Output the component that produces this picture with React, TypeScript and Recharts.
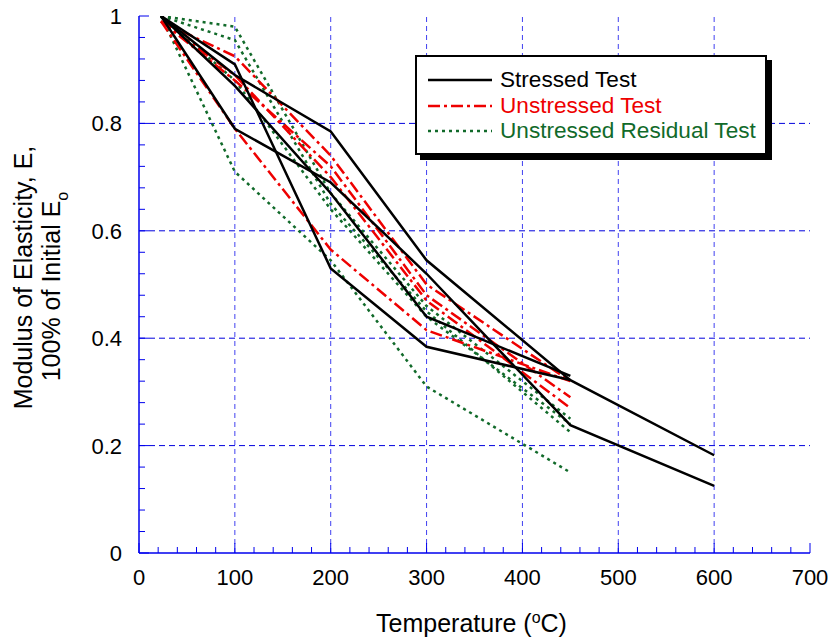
import React from 'react';
import { LineChart, Line, XAxis, YAxis, ReferenceLine } from 'recharts';

// temperatures of the test points (°C)
const tempsTo450 = [23, 100, 200, 300, 450];
const tempsTo600 = [23, 100, 200, 300, 450, 600];

// Stressed Test (black, solid)
const stressedA = [1.0, 0.89, 0.785, 0.545, 0.322, 0.182];
const stressedB = [1.0, 0.79, 0.69, 0.52, 0.238, 0.125];
const stressedC = [1.0, 0.91, 0.53, 0.384, 0.322];
const stressedD = [1.0, 0.87, 0.67, 0.44, 0.33];

// Unstressed Test (red, dash-dot)
const unstressedA = [0.99, 0.925, 0.74, 0.5, 0.32];
const unstressedB = [0.99, 0.88, 0.72, 0.48, 0.29];
const unstressedC = [0.99, 0.89, 0.7, 0.47, 0.27];
const unstressedD = [0.99, 0.79, 0.565, 0.415, 0.32];

// Unstressed Residual Test (green, dotted)
const residualA = [1.0, 0.98, 0.67, 0.46, 0.25];
const residualB = [1.0, 0.955, 0.65, 0.45, 0.225];
const residualC = [1.0, 0.71, 0.545, 0.31, 0.15];
const residualD = [1.0, 0.88, 0.64, 0.44, 0.24];

const xMajor = [0, 100, 200, 300, 400, 500, 600, 700];
const xMinor = [20, 40, 60, 80, 120, 140, 160, 180, 220, 240, 260, 280, 320, 340, 360, 380,
  420, 440, 460, 480, 520, 540, 560, 580, 620, 640, 660, 680];
const yMajor = [0, 0.2, 0.4, 0.6, 0.8, 1];
const yMinor = [0.04, 0.08, 0.12, 0.16, 0.24, 0.28, 0.32, 0.36, 0.44, 0.48, 0.52, 0.56,
  0.64, 0.68, 0.72, 0.76, 0.84, 0.88, 0.92, 0.96];
const gridX = [100, 200, 300, 400, 500, 600];
const gridY = [0.2, 0.4, 0.6, 0.8];

const toPoints = (temps: number[], values: number[]) =>
  values.map((e, i) => ({ t: temps[i], e }));

const BLACK = '#000000';
const RED = '#ee0000';
const GREEN = '#116a2a';
const AXIS_BLUE = '#0000ee';

const series = [
  { id: 'rA', temps: tempsTo450, values: residualA, color: GREEN, dash: '3 4' },
  { id: 'rB', temps: tempsTo450, values: residualB, color: GREEN, dash: '3 4' },
  { id: 'rC', temps: tempsTo450, values: residualC, color: GREEN, dash: '3 4' },
  { id: 'rD', temps: tempsTo450, values: residualD, color: GREEN, dash: '3 4' },
  { id: 'uA', temps: tempsTo450, values: unstressedA, color: RED, dash: '12 4 3 4' },
  { id: 'uB', temps: tempsTo450, values: unstressedB, color: RED, dash: '12 4 3 4' },
  { id: 'uC', temps: tempsTo450, values: unstressedC, color: RED, dash: '12 4 3 4' },
  { id: 'uD', temps: tempsTo450, values: unstressedD, color: RED, dash: '12 4 3 4' },
  { id: 'sA', temps: tempsTo600, values: stressedA, color: BLACK, dash: undefined },
  { id: 'sB', temps: tempsTo600, values: stressedB, color: BLACK, dash: undefined },
  { id: 'sC', temps: tempsTo450, values: stressedC, color: BLACK, dash: undefined },
  { id: 'sD', temps: tempsTo450, values: stressedD, color: BLACK, dash: undefined },
];

const isMajorY = (v: number) => Math.abs(v * 5 - Math.round(v * 5)) < 1e-6;

const BottomTick = ({ x, y, payload }: any) => {
  const major = xMajor.includes(payload.value);
  return (
    <g>
      <line x1={x} y1={y} x2={x} y2={y - (major ? 10 : 6)} stroke={AXIS_BLUE} strokeWidth={1} />
      {major && (
        <text x={x} y={y + 32} textAnchor="middle" fontSize={22} fill="#000">{payload.value}</text>
      )}
    </g>
  );
};

const TopTick = ({ x, y, payload }: any) => {
  const major = xMajor.includes(payload.value);
  return <line x1={x} y1={y} x2={x} y2={y + (major ? 10 : 6)} stroke={AXIS_BLUE} strokeWidth={1} />;
};

const LeftTick = ({ x, y, payload }: any) => {
  const major = isMajorY(payload.value);
  return (
    <g>
      <line x1={x} y1={y} x2={x + (major ? 10 : 6)} y2={y} stroke={AXIS_BLUE} strokeWidth={1} />
      {major && (
        <text x={x - 17} y={y + 8} textAnchor="end" fontSize={22} fill="#000">
          {String(Number(payload.value.toFixed(1)))}
        </text>
      )}
    </g>
  );
};

const RightTick = ({ x, y, payload }: any) => {
  const major = isMajorY(payload.value);
  return <line x1={x} y1={y} x2={x - (major ? 10 : 6)} y2={y} stroke={AXIS_BLUE} strokeWidth={1} />;
};

const YTitle = ({ viewBox }: any) => {
  const mid = viewBox.y + viewBox.height / 2;
  return (
    <g fontSize={25} fill="#000">
      <text transform={`translate(${viewBox.x + 32}, ${mid - 7}) rotate(-90)`} textAnchor="middle">
        Modulus of Elasticity, E,
      </text>
      <text transform={`translate(${viewBox.x + 60}, ${mid + 2}) rotate(-90)`} textAnchor="middle">
        100% of Initial E<tspan dy={8} fontSize={16}>o</tspan>
      </text>
    </g>
  );
};

const XTitle = ({ viewBox }: any) => (
  <text x={viewBox.x + viewBox.width / 2 - 3} y={viewBox.y + 79} textAnchor="middle" fontSize={25} fill="#000">
    Temperature (<tspan dy={-9} fontSize={16}>o</tspan><tspan dy={9}>C)</tspan>
  </text>
);

const legendRows = [
  { label: 'Stressed Test', color: BLACK, dash: undefined },
  { label: 'Unstressed Test', color: RED, dash: '12 4 3 4' },
  { label: 'Unstressed Residual Test', color: GREEN, dash: '3 4' },
];

const ChartLegend = () => (
  <div style={{
    position: 'absolute', left: 415, top: 55, width: 348, height: 96,
    border: '2px solid #000', background: '#fff', boxShadow: '5px 5px 0 #000',
  }}>
    {legendRows.map((row, i) => (
      <div key={row.label} style={{ position: 'absolute', left: 0, top: 10 + i * 25.5, height: 26, width: '100%' }}>
        <svg width={70} height={26} style={{ position: 'absolute', left: 9, top: 0 }}>
          <line x1={2} y1={13} x2={66} y2={13} stroke={row.color} strokeWidth={2.5} strokeDasharray={row.dash} />
        </svg>
        <span style={{ position: 'absolute', left: 83, top: 0, lineHeight: '26px', fontSize: 22.6, color: row.color, whiteSpace: 'nowrap' }}>
          {row.label}
        </span>
      </div>
    ))}
  </div>
);

export default function App() {
  return (
    <div style={{ position: 'relative', width: 832, height: 639, fontFamily: "'Liberation Sans', Arial, sans-serif", background: '#fff' }}>
      <style>{'body{margin:0}'}</style>
      <LineChart width={832} height={639} margin={{ top: 16, right: 22, bottom: 0, left: 0 }}>
        <XAxis
          dataKey="t" type="number" domain={[0, 700]} ticks={[...xMajor, ...xMinor]} interval={0}
          allowDataOverflow height={86} tickLine={false} tickSize={0} tickMargin={0}
          axisLine={{ stroke: AXIS_BLUE, strokeWidth: 1.5 }} tick={<BottomTick />} label={<XTitle />}
        />
        <XAxis
          xAxisId="top" orientation="top" type="number" domain={[0, 700]} ticks={[...xMajor, ...xMinor]} interval={0}
          allowDataOverflow height={0} tickLine={false} tickSize={0} tickMargin={0}
          axisLine={{ stroke: AXIS_BLUE, strokeWidth: 1.5 }} tick={<TopTick />}
        />
        <YAxis
          type="number" domain={[0, 1]} ticks={[...yMajor, ...yMinor]} interval={0}
          allowDataOverflow width={139} tickLine={false} tickSize={0} tickMargin={0}
          axisLine={{ stroke: AXIS_BLUE, strokeWidth: 1.5 }} tick={<LeftTick />} label={<YTitle />}
        />
        <YAxis
          yAxisId="right" orientation="right" type="number" domain={[0, 1]} ticks={[...yMajor, ...yMinor]} interval={0}
          allowDataOverflow width={0} tickLine={false} tickSize={0} tickMargin={0}
          axisLine={{ stroke: AXIS_BLUE, strokeWidth: 1.5 }} tick={<RightTick />}
        />
        {gridX.map((v) => (
          <ReferenceLine key={`gx${v}`} x={v} stroke="#4040f0" strokeWidth={1} strokeDasharray="5 4" />
        ))}
        {gridY.map((v) => (
          <ReferenceLine key={`gy${v}`} y={v} stroke="#0000dd" strokeWidth={1} strokeDasharray="6 4" />
        ))}
        {series.map((s) => (
          <Line
            key={s.id} data={toPoints(s.temps, s.values)} dataKey="e" type="linear"
            stroke={s.color} strokeWidth={2.5} strokeDasharray={s.dash}
            dot={false} activeDot={false} isAnimationActive={false} legendType="none"
          />
        ))}
      </LineChart>
      <ChartLegend />
    </div>
  );
}
